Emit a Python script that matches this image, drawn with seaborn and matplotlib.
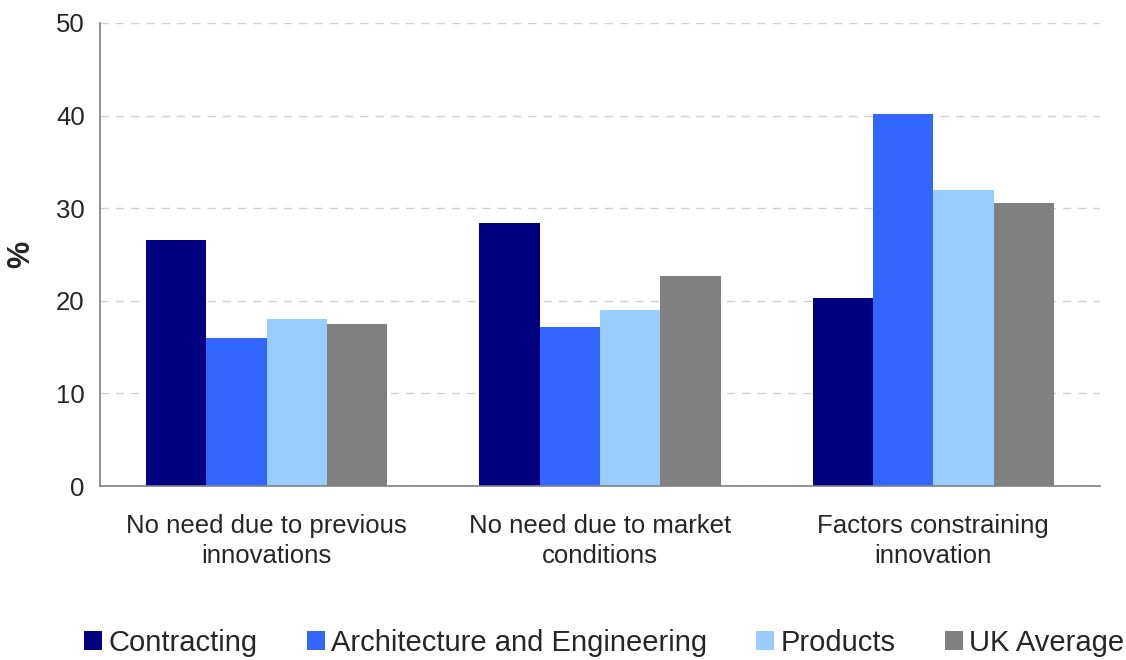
import matplotlib
matplotlib.use("Agg")
import matplotlib.pyplot as plt
import seaborn as sns
import pandas as pd
from matplotlib.patches import Patch
from matplotlib.ticker import FixedLocator

categories = ["No need due to previous\ninnovations", "No need due to market\nconditions", "Factors constraining\ninnovation"]
series = ["Contracting", "Architecture and Engineering", "Products", "UK Average"]
contracting = [26.6, 28.4, 20.3]
arch_eng = [16.0, 17.2, 40.2]
products = [18.0, 19.0, 32.0]
uk_avg = [17.5, 22.7, 30.6]
colors = ["#000080", "#3366FF", "#99CCFF", "#808080"]

rows = []
for s, vals in zip(series, [contracting, arch_eng, products, uk_avg]):
    for c, v in zip(categories, vals):
        rows.append({"category": c, "series": s, "value": v})
df = pd.DataFrame(rows)

sns.set_style("white")
plt.rcParams["font.family"] = ["Liberation Sans", "DejaVu Sans"]

fig = plt.figure(figsize=(11.26, 6.6), dpi=100)
ax = fig.add_axes([100/1126, 1 - 486/660, 1000/1126, 463/660])

sns.barplot(data=df, x="category", y="value", hue="series", order=categories,
            hue_order=series, palette=colors, width=0.724, saturation=1,
            edgecolor="none", linewidth=0, ax=ax, legend=False)

ax.set_xlim(-0.5, 2.5)
ax.set_ylim(0, 50)
ax.set_yticks([0, 10, 20, 30, 40, 50])
ax.yaxis.grid(True, linestyle=(0, (6, 5)), color="#d0d0d0", linewidth=1)
ax.set_axisbelow(True)
for side in ["top", "right"]:
    ax.spines[side].set_visible(False)
for side in ["left", "bottom"]:
    ax.spines[side].set_color("#808080")
    ax.spines[side].set_linewidth(1.2)

ax.xaxis.set_major_locator(FixedLocator([-0.5, 0.5, 1.5, 2.5]))
ax.set_xticklabels([])
ax.xaxis.set_minor_locator(FixedLocator([0, 1, 2]))
ax.set_xticklabels(categories, minor=True, fontsize=18.5, linespacing=1.35)
ax.tick_params(axis="x", which="major", direction="out", length=8, color="#808080", width=1.2)
ax.tick_params(axis="x", which="minor", length=0, pad=20)
ax.tick_params(axis="y", direction="out", length=6, color="#808080", width=1.2, labelsize=18.5, pad=5)
ax.set_xlabel("")
ax.set_ylabel("%", fontsize=22, fontweight="bold", labelpad=14)

handles = [Patch(facecolor=c, edgecolor="none") for c in colors]
fig.legend(handles, series, loc="center", bbox_to_anchor=(604/1126, 1 - 643/660), ncol=4,
           frameon=False, fontsize=21, handlelength=0.62, handleheight=0.62,
           handletextpad=0.2, columnspacing=1.7, borderaxespad=0, borderpad=0)

fig.savefig("out.png", dpi=100)
